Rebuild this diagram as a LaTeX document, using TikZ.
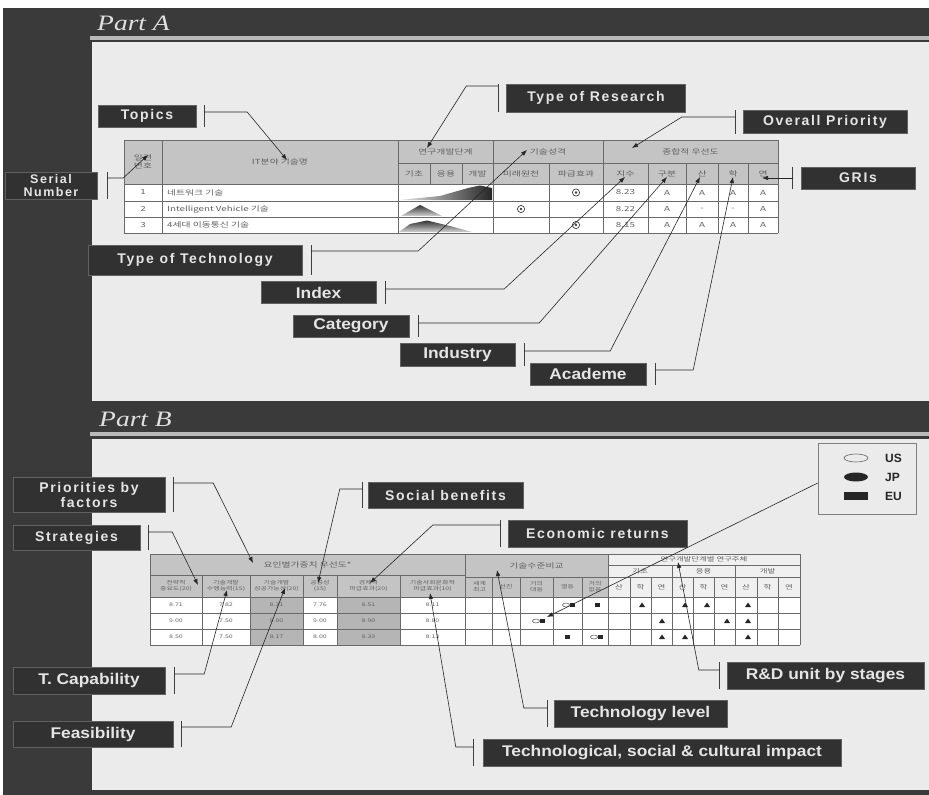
\documentclass[tikz,border=0pt]{standalone}
\usepackage{fontspec}
\setmainfont{Liberation Sans}
\newfontfamily\widefont{Liberation Sans}[LetterSpace=12]
\newfontfamily\narrowfont{Liberation Sans}[FakeStretch=1.12]
\newfontfamily\titlefont{Liberation Serif}[FakeStretch=1.25]
\newfontfamily\cjk{Noto Sans CJK KR}[FakeStretch=1.4]
\usetikzlibrary{arrows.meta}

\definecolor{frame}{HTML}{3A3A3A}
\definecolor{panel}{HTML}{EBEBEB}
\definecolor{lblbox}{HTML}{313131}
\definecolor{cellhd}{HTML}{C4C4C4}
\definecolor{cellsh}{HTML}{B5B5B5}
\definecolor{rulec}{HTML}{6A6A6A}

\tikzset{
  lbl/.style={fill=lblbox, draw=black!62, line width=0.4pt, text=white!90!black,
    inner sep=0pt, align=center},
  widelbl/.style={lbl, font=\widefont\bfseries\fontsize{14}{15}\selectfont},
  narrowlbl/.style={lbl, font=\narrowfont\bfseries\fontsize{15.5}{17}\selectfont},
  tickbar/.style={draw=black!75, line width=0.9pt},
  conn/.style={draw=black!85, line width=0.6pt, -{Latex[length=6pt,width=4.5pt]}},
  cellrule/.style={draw=rulec, line width=0.5pt},
  tx/.style={font=\cjk\fontsize{7}{8}\selectfont, text=black!62, inner sep=0pt, align=center},
  smalltx/.style={tx, font=\cjk\fontsize{5}{6}\selectfont},
  parttitle/.style={font=\titlefont\itshape\fontsize{22}{24}\selectfont, text=white!88!black,
    anchor=west, inner sep=0pt},
  legtx/.style={font=\bfseries\fontsize{12}{13}\selectfont, text=black!85, inner sep=0pt, anchor=west},
  tri/.style={fill=black!85}
}

\begin{document}
\begin{tikzpicture}[x=1pt, y=-1pt]
    \useasboundingbox (0,0) rectangle (929,795);

    % Frame and panels
    \fill[white] (0,0) rectangle (929,795);
    \fill[frame] (3,8) rectangle (929,795);
    \fill[gray!55] (90,36) rectangle (929,40);
    \fill[panel] (92,42) rectangle (929,401);
    \fill[gray!55] (90,432) rectangle (929,436);
    \fill[panel] (92,439) rectangle (929,790);
    \node[parttitle] (parta) at (97,23) {Part A};
    \node[parttitle] (partb) at (99,419) {Part B};

    % Part A table
    \fill[cellhd] (124,140) rectangle (778,184);
    \fill[white] (124,184) rectangle (778,233);
    \foreach \y in {140,184,201,217,233}
        \draw[cellrule] (124,\y) -- (778,\y);
    \draw[cellrule] (398,163) -- (778,163);
    \foreach \x in {124,162,398,493,603,778}
        \draw[cellrule, line width=0.9pt] (\x,140) -- (\x,233);
    \foreach \x in {430,462}
        \draw[cellrule] (\x,163) -- (\x,184);
    \foreach \x in {549,648,686,718,748}
        \draw[cellrule] (\x,163) -- (\x,233);

    \node[tx] (a-no) at (143,162) {일련\\번호};
    \node[tx] (a-topic) at (280,162) {IT분야 기술명};
    \node[tx] (a-stage) at (445.5,151.5) {연구개발단계};
    \node[tx] (a-kind) at (548,151.5) {기술성격};
    \node[tx] (a-prio) at (690.5,151.5) {종합적 우선도};
    \foreach \x/\txt [count=\i] in {414/기초, 446/응용, 477.5/개발, 521/미래원천, 576/파급효과,
        625.5/지수, 667/구분, 702/산, 733/학, 763/연}
        \node[tx] (a-sub\i) at (\x,173.5) {\txt};

    \foreach \y/\n/\txt in {192.5/1/네트워크 기술, 209/2/Intelligent Vehicle 기술,
        225/3/4세대 이동통신 기술} {
        \node[tx] (a-n\n) at (143,\y) {\n};
        \node[tx, anchor=west] (a-t\n) at (167,\y) {\txt};
    }
    \foreach \y/\n/\vi/\va/\vb/\vc/\vd in {192.5/1/8.23/A/A/A/A, 209/2/8.22/A/-/-/A,
        225/3/8.15/A/A/A/A} {
        \node[tx] (a-i\n) at (625.5,\y) {\vi};
        \node[tx] (a-c\n) at (667,\y) {\va};
        \node[tx] (a-p\n) at (702,\y) {\vb};
        \node[tx] (a-h\n) at (733,\y) {\vc};
        \node[tx] (a-g\n) at (763,\y) {\vd};
    }

    % research stage curves
    \shade[left color=gray!20, right color=black!85]
        (399,200) -- (440,196) -- (468,188) -- (480,185.5) -- (492,188) -- (492,200) -- cycle;
    \shade[top color=black!80, bottom color=gray!35]
        (401,216) -- (420,205) -- (442,216) -- cycle;
    \shade[top color=black!80, bottom color=gray!35]
        (399,232) -- (410,224) -- (427,220.5) -- (450,226) -- (472,232) -- cycle;

    % target marks
    \foreach \x/\y in {576/192.5, 521/209, 576/225} {
        \draw[black!75, line width=0.7pt] (\x,\y) circle (3.6);
        \fill[black!75] (\x,\y) circle (1.3);
    }

    % Part B table
    \fill[cellhd] (150,554) rectangle (608,597);
    \fill[gray!12] (608,554) rectangle (800,597);
    \fill[white] (150,597) rectangle (800,645);
    \fill[cellsh] (250,597) rectangle (303,645);
    \fill[cellsh] (337,597) rectangle (400,645);
    \foreach \y in {554,597,613,629,645}
        \draw[cellrule] (150,\y) -- (800,\y);
    \draw[cellrule] (150,575) -- (465,575);
    \draw[cellrule] (465,577) -- (800,577);
    \draw[cellrule] (608,565) -- (800,565);
    \foreach \x in {150,465,608,800}
        \draw[cellrule, line width=0.9pt] (\x,554) -- (\x,645);
    \foreach \x in {202,250,303,337,400}
        \draw[cellrule] (\x,575) -- (\x,645);
    \foreach \x in {492,520,553,582,630,651,693,714,757,778}
        \draw[cellrule] (\x,577) -- (\x,645);
    \foreach \x in {672,735}
        \draw[cellrule] (\x,565) -- (\x,645);

    \node[tx] (b-fac) at (307.5,565) {요인별가중치 우선도*};
    \foreach \x/\txt [count=\i] in {176/전략적\\중요도(20), 226/기술개발\\수행능력(15),
        276.5/기술개발\\성공가능성(20), 320/공공성\\(15), 368.5/경제적\\파급효과(20),
        432.5/기술사회문화적\\파급효과(10)}
        \node[smalltx] (b-f\i) at (\x,586) {\txt};
    \node[tx] (b-lvl) at (536.5,566) {기술수준비교};
    \foreach \x/\txt [count=\i] in {479.5/세계\\최고, 506/선진, 536.5/거의\\대등, 567.5/열등, 595/거의\\없음}
        \node[smalltx] (b-l\i) at (\x,587) {\txt};
    \node[tx, font=\cjk\fontsize{6}{7}\selectfont] (b-rd) at (704,559.5) {연구개발단계별 연구주체};
    \foreach \x/\txt [count=\i] in {640/기초, 703.5/응용, 767.5/개발}
        \node[tx, font=\cjk\fontsize{6}{7}\selectfont] (b-s\i) at (\x,571) {\txt};
    \foreach \x/\txt [count=\i] in {619/산, 640.5/학, 661.5/연, 682.5/산, 703.5/학, 724.5/연,
        746/산, 767.5/학, 789/연}
        \node[tx, font=\cjk\fontsize{6}{7}\selectfont] (b-u\i) at (\x,587) {\txt};

    \foreach \x/\v [count=\i] in {176/8.71, 226/7.82, 276.5/8.21, 320/7.76, 368.5/8.51, 432.5/8.11}
        \node[smalltx] (b-ra\i) at (\x,605) {\v};
    \foreach \x/\v [count=\i] in {176/9.00, 226/7.50, 276.5/8.00, 320/9.00, 368.5/8.90, 432.5/8.80}
        \node[smalltx] (b-rb\i) at (\x,621) {\v};
    \foreach \x/\v [count=\i] in {176/8.50, 226/7.50, 276.5/8.17, 320/8.00, 368.5/8.33, 432.5/8.13}
        \node[smalltx] (b-rc\i) at (\x,637) {\v};

    % country marks
    \foreach \x/\y in {570/605, 540/621, 598/637} {
        \draw[black!70, line width=0.5pt] (\x-4,\y) ellipse (3.5 and 2);
        \fill[black!85] (\x,\y-2) rectangle (\x+5,\y+2);
    }
    \foreach \x/\y in {597/605, 567/637}
        \fill[black!85] (\x-2.5,\y-2) rectangle (\x+2.5,\y+2);
    \foreach \x/\y in {642/605, 685/605, 707/605, 748/605, 662/621, 727/621, 748/621,
        662/637, 685/637, 748/637}
        \fill[tri] (\x-3,\y+2) -- (\x,\y-2.5) -- (\x+3,\y+2) -- cycle;

    % Legend
    \node[draw=black!50, line width=0.6pt, fill=panel, minimum width=98pt,
        minimum height=71pt] (legend) at (867,478.5) {};
    \draw[black!60, line width=0.6pt] (856,458) ellipse (12 and 4);
    \fill[black!85] (856,477) ellipse (12 and 4.5);
    \fill[black!85] (844,492) rectangle (868,500);
    \node[legtx] (us) at (885,458) {US};
    \node[legtx] (jp) at (885,477) {JP};
    \node[legtx] (eu) at (885,496) {EU};

    % Targets in the tables
    \coordinate (t-topics) at (287,160);
    \coordinate (t-research) at (427,148);
    \coordinate (t-overall) at (632,148);
    \coordinate (t-gris) at (762,178);
    \coordinate (t-serial) at (148,155);
    \coordinate (t-typetech) at (527,150);
    \coordinate (t-index) at (625,177);
    \coordinate (t-category) at (667,177);
    \coordinate (t-industry) at (700,177);
    \coordinate (t-academe) at (733,177);
    \coordinate (t-prio) at (253,563);
    \coordinate (t-strat) at (198,585);
    \coordinate (t-social) at (318,583);
    \coordinate (t-econ) at (370,583);
    \coordinate (t-tcap) at (227,590);
    \coordinate (t-feas) at (285,588);
    \coordinate (t-rdunit) at (678,562);
    \coordinate (t-techlvl) at (497,570);
    \coordinate (t-impact) at (430,593);
    \coordinate (t-legend) at (547,617);

    % Part A labels
    \node[widelbl, minimum width=98pt, minimum height=22pt] (topics) at (147,116) {Topics};
    \node[widelbl, minimum width=179pt, minimum height=28pt] (research) at (596,98) {Type of Research};
    \node[widelbl, minimum width=164pt, minimum height=23pt] (overall) at (825,122) {Overall Priority};
    \node[widelbl, minimum width=114pt, minimum height=22pt] (gris) at (858,178) {GRIs};
    \node[widelbl, font=\widefont\bfseries\fontsize{12.5}{12.5}\selectfont,
        minimum width=92pt, minimum height=27pt] (serial) at (51,185.5) {Serial\\Number};
    \node[widelbl, minimum width=214pt, minimum height=30pt] (typetech) at (195,260) {Type of Technology};
    \node[narrowlbl, minimum width=115pt, minimum height=22pt] (index) at (318.5,292.5) {Index};
    \node[narrowlbl, minimum width=116pt, minimum height=22pt] (category) at (351,326) {Category};
    \node[narrowlbl, minimum width=115pt, minimum height=23pt] (industry) at (457.5,354.5) {Industry};
    \node[narrowlbl, minimum width=116pt, minimum height=22pt] (academe) at (588,374) {Academe};

    \draw[tickbar] ([xshift=8pt]topics.north east) -- ([xshift=8pt]topics.south east);
    \draw[conn] ([xshift=8pt,yshift=4pt]topics.east) -- ++(43,0) -- (t-topics);
    \draw[tickbar] ([xshift=-8pt]research.north west) -- ([xshift=-8pt]research.south west);
    \draw[conn] ([xshift=-8pt,yshift=12pt]research.west) -- ++(-32,0) -- (t-research);
    \draw[tickbar] ([xshift=-7pt]overall.north west) -- ([xshift=-7pt]overall.south west);
    \draw[conn] ([xshift=-7pt,yshift=5pt]overall.west) -- ++(-54,0) -- (t-overall);
    \draw[tickbar] ([xshift=-8pt]gris.north west) -- ([xshift=-8pt]gris.south west);
    \draw[conn] ([xshift=-8pt]gris.west) -- (t-gris);
    \draw[tickbar] ([xshift=10pt]serial.north east) -- ([xshift=10pt]serial.south east);
    \draw[conn] ([xshift=10pt,yshift=7.5pt]serial.east) -- ++(16,0) -- (t-serial);
    \draw[tickbar] ([xshift=9pt]typetech.north east) -- ([xshift=9pt]typetech.south east);
    \draw[conn] ([xshift=9pt,yshift=9pt]typetech.east) -- ++(107,0) -- (t-typetech);
    \draw[tickbar] ([xshift=9pt]index.north east) -- ([xshift=9pt]index.south east);
    \draw[conn] ([xshift=9pt,yshift=3.5pt]index.east) -- ++(119,0) -- (t-index);
    \draw[tickbar] ([xshift=9pt]category.north east) -- ([xshift=9pt]category.south east);
    \draw[conn] ([xshift=9pt,yshift=3pt]category.east) -- ++(121,0) -- (t-category);
    \draw[tickbar] ([xshift=9pt]industry.north east) -- ([xshift=9pt]industry.south east);
    \draw[conn] ([xshift=9pt,yshift=3.5pt]industry.east) -- ++(86,0) -- (t-industry);
    \draw[tickbar] ([xshift=9pt]academe.north east) -- ([xshift=9pt]academe.south east);
    \draw[conn] ([xshift=9pt,yshift=4pt]academe.east) -- ++(38,0) -- (t-academe);

    % Part B labels
    \node[widelbl, minimum width=152pt, minimum height=35pt] (prio) at (89,494.5) {Priorities by\\factors};
    \node[widelbl, minimum width=127pt, minimum height=25pt] (strat) at (76.5,537.5) {Strategies};
    \node[widelbl, minimum width=155pt, minimum height=26pt] (social) at (445.5,495) {Social benefits};
    \node[widelbl, minimum width=179pt, minimum height=27pt] (econ) at (597.5,533.5) {Economic returns};
    \node[narrowlbl, minimum width=152pt, minimum height=27pt] (tcap) at (89,680.5) {T. Capability};
    \node[narrowlbl, minimum width=160pt, minimum height=26pt] (feas) at (93,734) {Feasibility};
    \node[narrowlbl, minimum width=197pt, minimum height=27pt] (rdunit) at (825.5,675.5) {R\&D unit by stages};
    \node[narrowlbl, minimum width=173pt, minimum height=27pt] (techlvl) at (640.5,713.5) {Technology level};
    \node[narrowlbl, minimum width=358pt, minimum height=27pt] (impact) at (662,752.5)
        {Technological, social \& cultural impact};

    \draw[tickbar] ([xshift=8pt]prio.north east) -- ([xshift=8pt]prio.south east);
    \draw[conn] ([xshift=8pt,yshift=11.5pt]prio.east) -- ++(40,0) -- (t-prio);
    \draw[tickbar] ([xshift=8pt]strat.north east) -- ([xshift=8pt]strat.south east);
    \draw[conn] ([xshift=8pt,yshift=5.5pt]strat.east) -- ++(24,0) -- (t-strat);
    \draw[tickbar] ([xshift=-5pt]social.north west) -- ([xshift=-5pt]social.south west);
    \draw[conn] ([xshift=-5pt,yshift=6pt]social.west) -- ++(-23,0) -- (t-social);
    \draw[tickbar] ([xshift=-7pt]econ.north west) -- ([xshift=-7pt]econ.south west);
    \draw[conn] ([xshift=-7pt,yshift=8.5pt]econ.west) -- ++(-68,0) -- (t-econ);
    \draw[tickbar] ([xshift=9pt]tcap.north east) -- ([xshift=9pt]tcap.south east);
    \draw[conn] ([xshift=9pt,yshift=6.5pt]tcap.east) -- ++(30,0) -- (t-tcap);
    \draw[tickbar] ([xshift=8pt]feas.north east) -- ([xshift=8pt]feas.south east);
    \draw[conn] ([xshift=8pt,yshift=7pt]feas.east) -- ++(50,0) -- (t-feas);
    \draw[tickbar] ([xshift=-7pt]rdunit.north west) -- ([xshift=-7pt]rdunit.south west);
    \draw[conn] ([xshift=-7pt,yshift=5.5pt]rdunit.west) -- ++(-21,0) -- (t-rdunit);
    \draw[tickbar] ([xshift=-6pt]techlvl.north west) -- ([xshift=-6pt]techlvl.south west);
    \draw[conn] ([xshift=-6pt,yshift=5.5pt]techlvl.west) -- ++(-24,0) -- (t-techlvl);
    \draw[tickbar] ([xshift=-9pt]impact.north west) -- ([xshift=-9pt]impact.south west);
    \draw[conn] ([xshift=-9pt,yshift=5.5pt]impact.west) -- ++(-18,0) -- (t-impact);
    \draw[conn] ([yshift=-4.5pt]legend.west) -- (t-legend);
\end{tikzpicture}
\end{document}
